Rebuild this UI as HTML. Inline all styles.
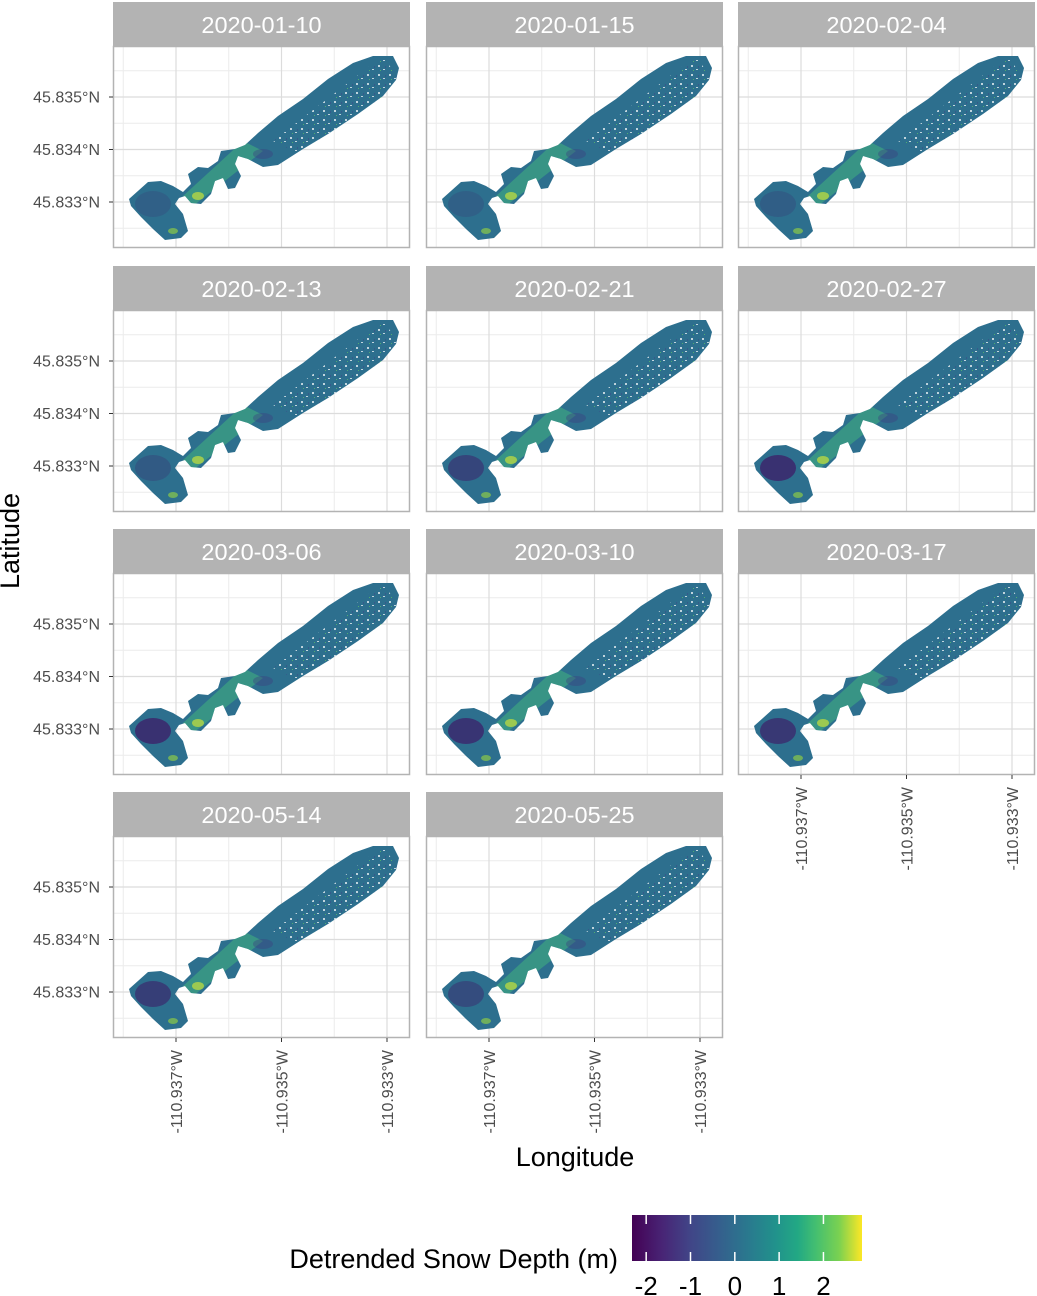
<!DOCTYPE html>
<html><head><meta charset="utf-8"><style>
body{margin:0;background:#fff;}
svg{display:block;font-family:"Liberation Sans",Arial,sans-serif;}
</style></head><body>
<svg id="chart" width="1037" height="1296" viewBox="0 0 1037 1296">
<defs>
<linearGradient id="viridis" x1="0" x2="1" y1="0" y2="0">
<stop offset="0" stop-color="#440154"/><stop offset="0.13" stop-color="#482475"/><stop offset="0.25" stop-color="#414487"/><stop offset="0.38" stop-color="#355f8d"/><stop offset="0.5" stop-color="#2a788e"/><stop offset="0.62" stop-color="#21918c"/><stop offset="0.72" stop-color="#22a884"/><stop offset="0.8" stop-color="#44bf70"/><stop offset="0.9" stop-color="#7ad151"/><stop offset="1" stop-color="#fde725"/>
</linearGradient>
<pattern id="holes" width="11" height="9" patternUnits="userSpaceOnUse">
<rect x="1" y="1" width="2" height="2" fill="#fff"/><rect x="6" y="5" width="2" height="1" fill="#fff"/><rect x="8" y="2" width="1" height="2" fill="#3a4f8a"/><rect x="3" y="6" width="1" height="1" fill="#5cc863"/>
</pattern>
<clipPath id="glacierClip"><path id="glacierPath" d="M16,153 L35,136 L48,135 L60,140 L70,146 L78,138 L75,128 L85,121 L95,122 L105,115 L108,105 L122,103 L132,99 L145,87 L165,70 L190,53 L215,33 L240,17 L260,10 L280,10 L286,22 L283,34 L270,50 L245,68 L215,88 L190,103 L165,119 L150,121 L135,113 L125,110 L122,118 L128,130 L122,142 L115,143 L110,132 L102,135 L98,148 L88,158 L78,157 L72,150 L66,152 L62,158 L70,168 L75,185 L68,192 L52,194 L40,183 L28,171 L18,160 Z"/></clipPath>
</defs>
<g id="panels"></g>
<g id="colorbar"></g>
<text x="12" y="541" font-size="27" text-anchor="middle" transform="rotate(-90 12 541)" dominant-baseline="middle">Latitude</text>
<text x="575" y="1166" font-size="27" text-anchor="middle">Longitude</text>
<text x="618" y="1268" font-size="27" text-anchor="end">Detrended Snow Depth (m)</text>
</svg>
<script>
const dates=["2020-01-10","2020-01-15","2020-02-04","2020-02-13","2020-02-21","2020-02-27","2020-03-06","2020-03-10","2020-03-17","2020-05-14","2020-05-25"];
const lobeDark=[0.2,0.2,0.25,0.3,0.6,0.9,0.9,0.85,0.8,0.7,0.5];
const latTicks=[45.835,45.834,45.833];
const lonTicks=[-110.937,-110.935,-110.933];
const legendTicks=[-2,-1,0,1,2];
const NS="http://www.w3.org/2000/svg";
const svg=document.getElementById('chart');
const panels=document.getElementById('panels');
const colX=[113,426,738], rowY=[46,310,573,836], PW=297, PH=202;
function xs(lon){return 63+(lon-(-110.937))/0.001*52.75;}
function ys(lat){return 51+(45.835-lat)/0.001*52.5;}
function mk(t,a,p){const e=document.createElementNS(NS,t);for(const k in a)e.setAttribute(k,a[k]);(p||panels).appendChild(e);return e;}
dates.forEach((d,i)=>{
 const c=i%3,r=Math.floor(i/3),x0=colX[c],y0=rowY[r];
 const g=mk('g',{transform:`translate(${x0},${y0})`});
 
 
 const strip=mk('rect',{x:0,y:-44,width:PW,height:44,fill:'#b3b3b3'},g);
 
 
 const st=mk('text',{x:PW/2,y:-13,'font-size':23.5,fill:'#fff','text-anchor':'middle'},g);st.textContent=d;
 
 
 for(let k=-1;k<=3;k++){const lt=45.8355-k*0.001;const y=ys(lt);if(y>0&&y<PH)mk('line',{x1:0,x2:PW,y1:y,y2:y,stroke:'#ececec','stroke-width':1},g);}
 for(let k=-1;k<=3;k++){const ln=-110.938+k*0.002;const x=xs(ln);if(x>0&&x<PW)mk('line',{x1:x,x2:x,y1:0,y2:PH,stroke:'#ececec','stroke-width':1},g);}
 latTicks.forEach(t=>{const y=ys(t);mk('line',{x1:0,x2:PW,y1:y,y2:y,stroke:'#dcdcdc','stroke-width':1.2},g);});
 lonTicks.forEach(t=>{const x=xs(t);mk('line',{x1:x,x2:x,y1:0,y2:PH,stroke:'#dcdcdc','stroke-width':1.2},g);});
 const gl=mk('g',{'clip-path':'url(#glacierClip)'},g);
 
 
 mk('rect',{x:0,y:0,width:PW,height:PH,fill:'#2d6f8e'},gl);
 mk('polygon',{points:'160,95 270,10 290,40 190,110',fill:'url(#holes)',opacity:0.7},gl);
 mk('polygon',{points:'70,150 130,95 150,105 80,160',fill:'#3fae7e',opacity:0.6},gl);
 mk('ellipse',{cx:85,cy:150,rx:6,ry:4,fill:'#c8e03a',opacity:0.7},gl);
 mk('ellipse',{cx:40,cy:158,rx:18,ry:13,fill:'#3b2a6e',opacity:lobeDark[i]},gl);
 mk('ellipse',{cx:60,cy:185,rx:5,ry:3,fill:'#9bd93c',opacity:0.6},gl);
 mk('ellipse',{cx:150,cy:108,rx:10,ry:5,fill:'#3c3f80',opacity:0.4},gl);
 mk('rect',{x:0.5,y:0.5,width:PW-1,height:PH-1,fill:'none',stroke:'#b3b3b3','stroke-width':1.5},g);
 if(c===0){latTicks.forEach(t=>{const y=ys(t);mk('line',{x1:-4,x2:0,y1:y,y2:y,stroke:'#333'},g);
   const tx=mk('text',{x:-13,y:y+5.5,'font-size':16,fill:'#4d4d4d','text-anchor':'end'},g);tx.textContent=t.toFixed(3)+'°N';
   
   });}
 if(i>=8){lonTicks.forEach(t=>{const x=xs(t);mk('line',{x1:x,x2:x,y1:PH,y2:PH+4,stroke:'#333'},g);
   const tx=mk('text',{x:0,y:0,'font-size':16,fill:'#4d4d4d','text-anchor':'end',transform:`translate(${x+6},${PH+12}) rotate(-90)`},g);tx.textContent=t.toFixed(3)+'°W';
   
   });}
});
const cb=document.getElementById('colorbar');
const cbX=632,cbW=230,cbY=1215,cbH=46,vmin=-2.32,vmax=2.87;
function cx(v){return cbX+(v-vmin)/(vmax-vmin)*cbW;}
const bar=mk('rect',{x:cbX,y:cbY,width:cbW,height:cbH,fill:'url(#viridis)'},cb);


legendTicks.forEach(v=>{const x=cx(v);
 mk('line',{x1:x,x2:x,y1:cbY,y2:cbY+9,stroke:'#fff','stroke-width':1.5},cb);
 mk('line',{x1:x,x2:x,y1:cbY+cbH-9,y2:cbY+cbH,stroke:'#fff','stroke-width':1.5},cb);
 const t=mk('text',{x:x,y:1295,'font-size':26,'text-anchor':'middle'},cb);t.textContent=v;
 
 
});
</script>
</body></html>
